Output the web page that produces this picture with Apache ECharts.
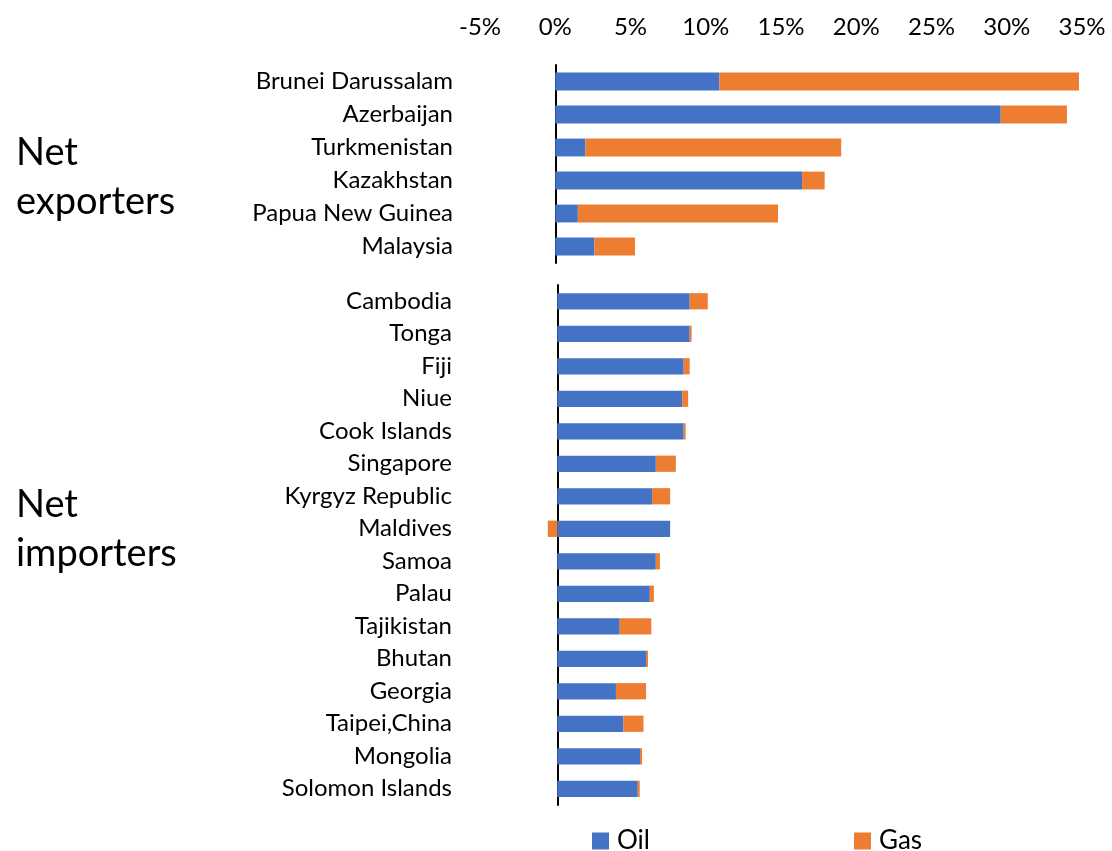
<!DOCTYPE html>
<html>
<head>
<meta charset="utf-8">
<script src="https://cdn.jsdelivr.net/npm/echarts@6/dist/echarts.min.js"></script>
<style>
html,body{margin:0;padding:0;background:#fff;}
#chart{width:1112px;height:851px;}
</style>
</head>
<body>
<div id="chart"></div>
<script>
// ---- data (percent) ----
var exporters = ['Brunei Darussalam','Azerbaijan','Turkmenistan','Kazakhstan','Papua New Guinea','Malaysia'];
var exporterOil = [10.9, 29.6, 2.0, 16.4, 1.5, 2.6];
var exporterGas = [23.9, 4.4, 17.0, 1.5, 13.3, 2.7];

var importers = ['Cambodia','Tonga','Fiji','Niue','Cook Islands','Singapore','Kyrgyz Republic','Maldives','Samoa','Palau','Tajikistan','Bhutan','Georgia','Taipei,China','Mongolia','Solomon Islands'];
var importerOil = [8.8, 8.8, 8.4, 8.3, 8.4, 6.55, 6.3, 7.5, 6.55, 6.15, 4.15, 5.9, 3.9, 4.4, 5.5, 5.35];
var importerGas = [1.2, 0.13, 0.4, 0.4, 0.13, 1.33, 1.2, -0.63, 0.27, 0.27, 2.1, 0.13, 2.0, 1.33, 0.13, 0.13];

var groupLabels = ['Net\nexporters', 'Net\nimporters'];
var seriesNames = ['Oil', 'Gas'];
var tickMin = -5, tickMax = 35, tickStep = 5;

var OIL = '#4472C4', GAS = '#ED7D31';
var FONT = 'Lato';

var chart = echarts.init(document.getElementById('chart'));

function catAxis(gridIndex, data, margin) {
  return {
    type: 'category', gridIndex: gridIndex, data: data, inverse: true,
    axisLine: { show: true, onZero: true, lineStyle: { color: '#000', width: 2 } },
    axisTick: { show: false },
    axisLabel: { margin: margin, fontFamily: FONT, fontSize: 24, color: '#000' },
    splitLine: { show: false }
  };
}
function valAxis(gridIndex, showLabels) {
  return {
    type: 'value', gridIndex: gridIndex, min: tickMin, max: tickMax, interval: tickStep,
    position: 'top',
    axisLine: { show: false }, axisTick: { show: false }, splitLine: { show: false },
    axisLabel: { show: showLabels, margin: 26, fontFamily: FONT, fontSize: 24, color: '#000',
      formatter: function (v) { return v + '%'; } }
  };
}
function bar(name, xi, data, color, gap) {
  return {
    name: name, type: 'bar', xAxisIndex: xi, yAxisIndex: xi, stack: 'g' + xi,
    data: data, itemStyle: { color: color }, barCategoryGap: gap
  };
}

var lines0 = groupLabels[0].split('\n');
var lines1 = groupLabels[1].split('\n');

chart.setOption({
  animation: false,
  backgroundColor: '#fff',
  grid: [
    { left: 480, right: 30, top: 65, height: 198 },
    { left: 482, right: 28, top: 285, height: 520 }
  ],
  xAxis: [valAxis(0, true), valAxis(1, false)],
  yAxis: [catAxis(0, exporters, 27), catAxis(1, importers, 30)],
  legend: [
    { data: [seriesNames[0]], left: 592, top: 828, padding: 0, itemWidth: 17, itemHeight: 17, icon: 'rect',
      textStyle: { fontFamily: FONT, fontSize: 26, color: '#000', padding: [0, 0, 0, 3] } },
    { data: [seriesNames[1]], left: 854, top: 828, padding: 0, itemWidth: 17, itemHeight: 17, icon: 'rect',
      textStyle: { fontFamily: FONT, fontSize: 26, color: '#000', padding: [0, 0, 0, 3] } }
  ],
  graphic: [
    { type: 'text', left: 16, top: 134, style: { text: lines0[0], font: '38px Lato', fill: '#000' } },
    { type: 'text', left: 16, top: 183, style: { text: lines0[1], font: '38px Lato', fill: '#000' } },
    { type: 'text', left: 16, top: 486, style: { text: lines1[0], font: '38px Lato', fill: '#000' } },
    { type: 'text', left: 16, top: 535, style: { text: lines1[1], font: '38px Lato', fill: '#000' } }
  ],
  series: [
    bar(seriesNames[0], 0, exporterOil, OIL, '46%'),
    bar(seriesNames[1], 0, exporterGas, GAS, '46%'),
    bar(seriesNames[0], 1, importerOil, OIL, '50%'),
    bar(seriesNames[1], 1, importerGas, GAS, '50%')
  ]
});
</script>
</body>
</html>
